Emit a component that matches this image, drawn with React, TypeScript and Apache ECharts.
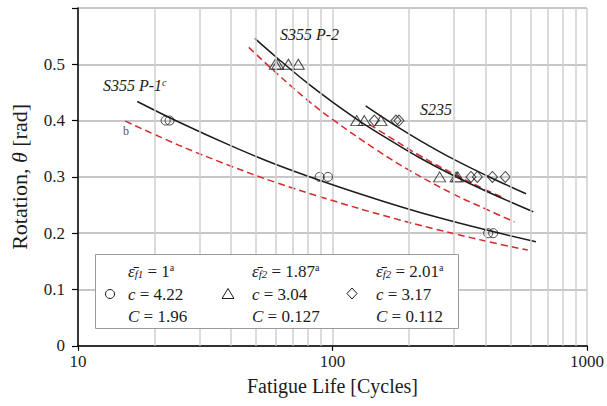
import React, { useEffect, useRef } from 'react';
import * as echarts from 'echarts';

// ---- data ----
const xTickLabels: Record<number, string> = { 10: '10', 100: '100', 1000: '1000' };
const yTickLabels = ['0', '0.1', '0.2', '0.3', '0.4', '0.5', ''];
const xMinorGrid = [20, 30, 40, 50, 60, 70, 80, 90, 200, 300, 400, 500, 600, 700, 800, 900];

const circleN = [22.1, 22.9, 89, 96, 409, 428];
const circleTheta = [0.4, 0.4, 0.3, 0.3, 0.2, 0.2];
const triN = [59.6, 60.9, 67.1, 73.4, 124.5, 133.3, 155, 263.6, 305.9, 310.6];
const triTheta = [0.5, 0.5, 0.5, 0.5, 0.4, 0.4, 0.4, 0.3, 0.3, 0.3];
const diaN = [146, 177.6, 182.5, 350, 370.7, 425, 477.5];
const diaTheta = [0.4, 0.4, 0.4, 0.3, 0.3, 0.3, 0.3];

const p1FitN = [17.1, 25, 40, 60, 100, 160, 250, 400, 630];
const p1FitTheta = [0.434, 0.397, 0.355, 0.322, 0.286, 0.256, 0.23, 0.206, 0.185];
const p2FitN = [49.5, 60, 80, 100, 130, 170, 220, 300, 400, 615];
const p2FitTheta = [0.546, 0.513, 0.466, 0.433, 0.397, 0.364, 0.334, 0.302, 0.275, 0.238];
const s235FitN = [135, 170, 220, 300, 400, 576];
const s235FitTheta = [0.426, 0.396, 0.365, 0.331, 0.303, 0.27];

const p1DesignN = [15.35, 25, 40, 60, 100, 160, 250, 400, 585];
const p1DesignTheta = [0.399, 0.356, 0.319, 0.29, 0.258, 0.231, 0.208, 0.186, 0.17];
const p2DesignN = [46.9, 60, 80, 100, 150, 200, 300, 400, 519];
const p2DesignTheta = [0.53, 0.485, 0.436, 0.402, 0.347, 0.312, 0.269, 0.243, 0.22];
const s235DesignN = [140, 170, 220, 300, 400, 475];
const s235DesignTheta = [0.393, 0.369, 0.338, 0.305, 0.277, 0.262];

const FONT = '"Liberation Serif", "Times New Roman", "DejaVu Serif", serif';
const INK = '#1c1c1c';
const RED = '#d22b2b';

const pairs = (xs: number[], ys: number[]) => xs.map((x, i) => [x, ys[i]]);

function fitLine(name: string, xs: number[], ys: number[]) {
  return {
    name, type: 'line', data: pairs(xs, ys), smooth: 0.4, symbol: 'none', z: 3,
    lineStyle: { color: INK, width: 1.5 },
  };
}
function designLine(name: string, xs: number[], ys: number[]) {
  return {
    name, type: 'line', data: pairs(xs, ys), smooth: 0.4, symbol: 'none', z: 3,
    lineStyle: { color: RED, width: 1.5, type: [7, 4] },
  };
}
function markers(name: string, xs: number[], ys: number[], symbol: string, size: any) {
  return {
    name, type: 'scatter', data: pairs(xs, ys), symbol, symbolSize: size, z: 4,
    itemStyle: { color: 'rgba(0,0,0,0)', borderColor: INK, borderWidth: 1 },
  };
}

const legendRich = {
  e: { fontFamily: FONT, fontSize: 17, fontStyle: 'italic', fill: INK },
  sub: { fontFamily: FONT, fontSize: 11, fontStyle: 'italic', verticalAlign: 'bottom', fill: INK },
  n: { fontFamily: FONT, fontSize: 17, fill: INK },
  sup: { fontFamily: FONT, fontSize: 10, verticalAlign: 'top', fill: INK },
};

function legendColumn(x: number, sub: string, eps: string, c: string, C: string) {
  return [
    {
      type: 'text', z: 101, x, y: 271,
      style: { text: `{e|ε\u0304}{sub|${sub}}{n| = ${eps}}{sup|a}`, rich: legendRich, verticalAlign: 'middle', fill: INK },
    },
    {
      type: 'text', z: 101, x, y: 294,
      style: { text: `{e|c}{n| = ${c}}`, rich: legendRich, verticalAlign: 'middle', fill: INK },
    },
    {
      type: 'text', z: 101, x, y: 316,
      style: { text: `{e|C}{n| = ${C}}`, rich: legendRich, verticalAlign: 'middle', fill: INK },
    },
  ];
}

const labelRich = {
  t: { fontFamily: FONT, fontSize: 16, fontStyle: 'italic', fill: INK },
  s: { fontFamily: FONT, fontSize: 10, fontStyle: 'italic', verticalAlign: 'top', fill: INK },
};

export default function App() {
  const ref = useRef<HTMLDivElement>(null);
  useEffect(() => {
    const chart = echarts.init(ref.current!, null, { renderer: 'svg' });
    const option: any = {
      animation: false,
      backgroundColor: '#fff',
      textStyle: { fontFamily: FONT },
      grid: { left: 77.5, right: 15.5, top: 8, bottom: 60.2, containLabel: false },
      xAxis: {
        type: 'log', logBase: 10, min: 10, max: 1000,
        name: 'Fatigue Life [Cycles]', nameLocation: 'middle', nameGap: 30,
        nameTextStyle: { fontFamily: FONT, fontSize: 20, color: INK },
        axisLine: { lineStyle: { color: '#000', width: 1.5 } },
        axisTick: { show: true, length: 5, lineStyle: { color: '#000', width: 1.2 } },
        axisLabel: {
          fontFamily: FONT, fontSize: 17, color: INK, margin: 7,
          formatter: (v: number) => xTickLabels[Math.round(v)] ?? String(Math.round(v)),
        },
        splitLine: { show: true, lineStyle: { color: '#cfcfcf', width: 1.5 } },
      },
      yAxis: {
        type: 'value', min: 0, max: 0.6, interval: 0.1,
        name: 'Rotation, {i|θ} [rad]', nameLocation: 'middle', nameGap: 48, nameRotate: 90,
        nameTextStyle: {
          fontFamily: FONT, fontSize: 22, color: INK,
          rich: { i: { fontFamily: FONT, fontSize: 22, fontStyle: 'italic', color: INK } },
        },
        axisLine: { show: true, lineStyle: { color: '#000', width: 1.5 } },
        axisTick: { show: true, length: 6, lineStyle: { color: '#000', width: 1.2 } },
        axisLabel: {
          fontFamily: FONT, fontSize: 17, color: INK, margin: 13,
          formatter: (v: number) => yTickLabels[Math.round(v * 10)] ?? '',
        },
        splitLine: { show: true, lineStyle: { color: '#b4b4b4', width: 1.5 } },
      },
      series: [
        {
          name: 'minorGrid', type: 'line', data: [], z: 1, silent: true,
          markLine: {
            silent: true, symbol: ['none', 'none'], animation: false,
            label: { show: false },
            lineStyle: { color: '#cfcfcf', width: 1.5, type: 'solid' },
            data: xMinorGrid.map((v) => ({ xAxis: v })),
          },
        },
        designLine('S355 P-1 design', p1DesignN, p1DesignTheta),
        designLine('S355 P-2 design', p2DesignN, p2DesignTheta),
        designLine('S235 design', s235DesignN, s235DesignTheta),
        fitLine('S355 P-1 fit', p1FitN, p1FitTheta),
        fitLine('S355 P-2 fit', p2FitN, p2FitTheta),
        fitLine('S235 fit', s235FitN, s235FitTheta),
        markers('S355 P-1', circleN, circleTheta, 'circle', 9),
        markers('S355 P-2', triN, triTheta, 'triangle', [12, 10]),
        markers('S235', diaN, diaTheta, 'diamond', [10, 11]),
      ],
      graphic: [
        {
          type: 'text', z: 101, x: 103, y: 85,
          style: { text: '{t|S355 P-1}{s|c}', rich: labelRich, verticalAlign: 'middle' },
        },
        {
          type: 'text', z: 101, x: 280, y: 34,
          style: { text: '{t|S355 P-2}', rich: labelRich, verticalAlign: 'middle' },
        },
        {
          type: 'text', z: 101, x: 420, y: 109,
          style: { text: '{t|S235}', rich: labelRich, verticalAlign: 'middle' },
        },
        {
          type: 'text', z: 101, x: 126, y: 131,
          style: { text: 'b', fontFamily: FONT, fontSize: 12, fill: '#555', align: 'center', verticalAlign: 'middle' },
        },
        {
          type: 'rect', z: 100, shape: { x: 95.5, y: 254.5, width: 363, height: 74 },
          style: { fill: '#fff', stroke: '#9a9a9a', lineWidth: 1 },
        },
        {
          type: 'circle', z: 101, shape: { cx: 110, cy: 294, r: 4.5 },
          style: { fill: 'none', stroke: INK, lineWidth: 1 },
        },
        {
          type: 'polygon', z: 101, shape: { points: [[228, 288.5], [234, 298.5], [222, 298.5]] },
          style: { fill: 'none', stroke: INK, lineWidth: 1 },
        },
        {
          type: 'polygon', z: 101, shape: { points: [[352, 288], [357, 293.5], [352, 299], [347, 293.5]] },
          style: { fill: 'none', stroke: INK, lineWidth: 1 },
        },
        ...legendColumn(128, 'f1', '1', '4.22', '1.96'),
        ...legendColumn(252, 'f2', '1.87', '3.04', '0.127'),
        ...legendColumn(376, 'f2', '2.01', '3.17', '0.112'),
      ],
    };
    chart.setOption(option);
    return () => chart.dispose();
  }, []);
  return (
    <div
      ref={ref}
      style={{ position: 'fixed', left: 0, top: 0, width: 607, height: 406, background: '#fff' }}
    />
  );
}
